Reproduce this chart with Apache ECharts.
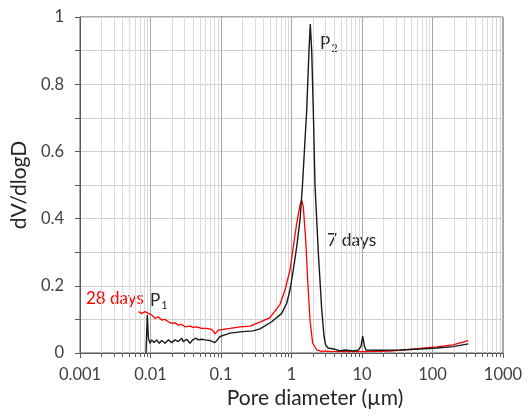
<!DOCTYPE html>
<html>
<head>
<meta charset="utf-8">
<script src="https://cdn.jsdelivr.net/npm/echarts@6/dist/echarts.min.js"></script>
<style>
html,body{margin:0;padding:0;background:#fff;}
#chart{width:529px;height:417px;}
</style>
</head>
<body>
<div id="chart"></div>
<script>
// ---- data (pore diameter in µm, dV/dlogD) ----
const days7Diameter = [0.00863,0.00901,0.00931,0.00984,0.0104,0.01121,0.01224,0.01333,0.01442,0.01606,0.01789,0.01999,0.02226,0.02479,0.02771,0.02919,0.03262,0.03634,0.0397,0.04419,0.04764,0.05323,0.05929,0.06982,0.08222,0.08861,0.09678,0.1139,0.1342,0.186,0.2844,0.3574,0.5237,0.7261,0.855,0.9522,1.0605,1.185,1.32,1.432,1.643,1.771,1.848,1.934,2.038,2.154,2.399,2.682,2.891,3.036,3.294,4.14,4.874,5.739,7.453,8.778,9.678,10.23,10.85,11.39,18.0,34.59,66.48,115.8,195.4,321.9];
const days7Value = [0,0.113,0.045,0.029,0.039,0.031,0.039,0.029,0.037,0.029,0.039,0.031,0.039,0.034,0.044,0.034,0.041,0.029,0.039,0.044,0.039,0.041,0.039,0.037,0.031,0.039,0.049,0.054,0.059,0.063,0.066,0.072,0.093,0.118,0.148,0.1875,0.247,0.316,0.396,0.5,0.723,0.9,0.979,0.9,0.723,0.5,0.3,0.13,0.05,0.025,0.015,0.011,0.006,0.009,0.006,0.008,0.02,0.05,0.02,0.009,0.008,0.009,0.012,0.015,0.019,0.027];

const days28Diameter = [0.006757,0.007503,0.008356,0.00931,0.0104,0.01158,0.0129,0.01442,0.01606,0.01789,0.01999,0.02226,0.02479,0.02771,0.03086,0.03634,0.04048,0.04521,0.05323,0.06268,0.07381,0.08222,0.09156,0.1078,0.1342,0.186,0.2579,0.3574,0.4955,0.687,0.8089,0.9522,1.0605,1.185,1.32,1.395,1.471,1.59,1.697,1.83,1.998,2.278,2.537,3.517,5.739,9.367,15.29,24.96,40.73,66.48,115.8,195.4,321.9];
const days28Value = [0.123,0.118,0.123,0.118,0.113,0.103,0.108,0.098,0.1,0.093,0.088,0.09,0.083,0.085,0.078,0.08,0.076,0.078,0.073,0.073,0.07,0.057,0.068,0.07,0.073,0.078,0.08,0.092,0.105,0.145,0.1875,0.247,0.316,0.386,0.44,0.455,0.435,0.336,0.217,0.098,0.029,0.009,0.006,0.005,0.004,0.004,0.005,0.006,0.009,0.014,0.018,0.024,0.037];

// ---- axis ticks ----
const xDecades = [0.001,0.01,0.1,1,10,100];
const xMinorMultipliers = [2,3,4,5,6,7,8,9];
const yTicks = [0,0.2,0.4,0.6,0.8,1];

const minorTicks = [];
xDecades.forEach(d => xMinorMultipliers.forEach(m => minorTicks.push([+(d*m).toPrecision(3), 0])));

const FONT = 'Lato';
const chart = echarts.init(document.getElementById('chart'), null, {renderer:'canvas'});

chart.setOption({
  animation:false,
  backgroundColor:'#ffffff',
  textStyle:{fontFamily:FONT},
  grid:{left:80,right:26,top:17,bottom:64,show:true,borderColor:'#595959',borderWidth:1,backgroundColor:'transparent'},
  xAxis:{
    type:'log', logBase:10, min:0.001, max:1000,
    name:'Pore diameter (µm)', nameLocation:'middle', nameGap:32,
    nameTextStyle:{fontFamily:FONT,fontSize:21,color:'#262626',padding:[0,0,0,47]},
    axisLine:{show:true,onZero:false,lineStyle:{color:'#595959',width:1}},
    axisTick:{show:true,inside:false,length:5,lineStyle:{color:'#595959'}},
    axisLabel:{fontFamily:FONT,fontSize:16.5,color:'#404040',margin:13,
      formatter:v => String(+Number(v).toPrecision(6))},
    splitLine:{show:true,lineStyle:{color:'#a6a6a6',width:1}},
    minorTick:{show:false}, minorSplitLine:{show:false}
  },
  yAxis:{
    type:'value', min:0, max:1, interval:0.2,
    name:'dV/dlogD', nameLocation:'middle', nameGap:41,
    nameTextStyle:{fontFamily:FONT,fontSize:21,color:'#262626'},
    axisLine:{show:true,lineStyle:{color:'#595959',width:1}},
    axisTick:{show:true,inside:false,length:5,lineStyle:{color:'#595959'}},
    minorTick:{show:true,splitNumber:2,length:5,lineStyle:{color:'#595959'}},
    axisLabel:{fontFamily:FONT,fontSize:16.5,color:'#404040',margin:16,
      formatter:v => String(+Number(v).toPrecision(6))},
    splitLine:{show:true,lineStyle:{color:'#d0d0d0',width:1}},
    minorSplitLine:{show:true,lineStyle:{color:'#d0d0d0',width:1}}
  },
  series:[
    {
      type:'custom', z:1, silent:true, clip:false,
      data:minorTicks,
      encode:{x:0,y:1},
      renderItem:function(params, api){
        const v = api.value(0);
        const b = api.coord([v,0]);
        const t = api.coord([v,1]);
        const x = Math.round(b[0]) + 0.5;
        return {type:'group',children:[
          {type:'line',shape:{x1:x,y1:t[1],x2:x,y2:b[1]},style:{stroke:'#dadada',lineWidth:1}},
          {type:'line',shape:{x1:x,y1:b[1],x2:x,y2:b[1]+4},style:{stroke:'#595959',lineWidth:1}}
        ]};
      }
    },
    {
      name:'28 days', type:'line', z:3, symbol:'none', smooth:false,
      data:days28Diameter.map((d,i)=>[d,days28Value[i]]),
      lineStyle:{color:'#ff0000',width:1.3}
    },
    {
      name:'7 days', type:'line', z:4, symbol:'none', smooth:false,
      data:days7Diameter.map((d,i)=>[d,days7Value[i]]),
      lineStyle:{color:'#1a1a1a',width:1.4}
    }
  ],
  graphic:[
    {type:'text',left:86,top:290,style:{text:'28 days',fill:'#ff0000',font:'17px Lato'}},
    {type:'text',left:150,top:292,style:{text:'{p|P}{s|1}',fill:'#262626',rich:{p:{fontFamily:FONT,fontSize:17,fill:'#262626'},s:{fontFamily:FONT,fontSize:11,fill:'#262626',padding:[9,0,0,1]}}}},
    {type:'text',left:320,top:35,style:{text:'{p|P}{s|2}',fill:'#262626',rich:{p:{fontFamily:FONT,fontSize:17,fill:'#262626'},s:{fontFamily:FONT,fontSize:11,fill:'#262626',padding:[9,0,0,1]}}}},
    {type:'text',left:327,top:231,style:{text:'7 days',fill:'#262626',font:'17.5px Lato'}}
  ]
});
</script>
</body>
</html>
